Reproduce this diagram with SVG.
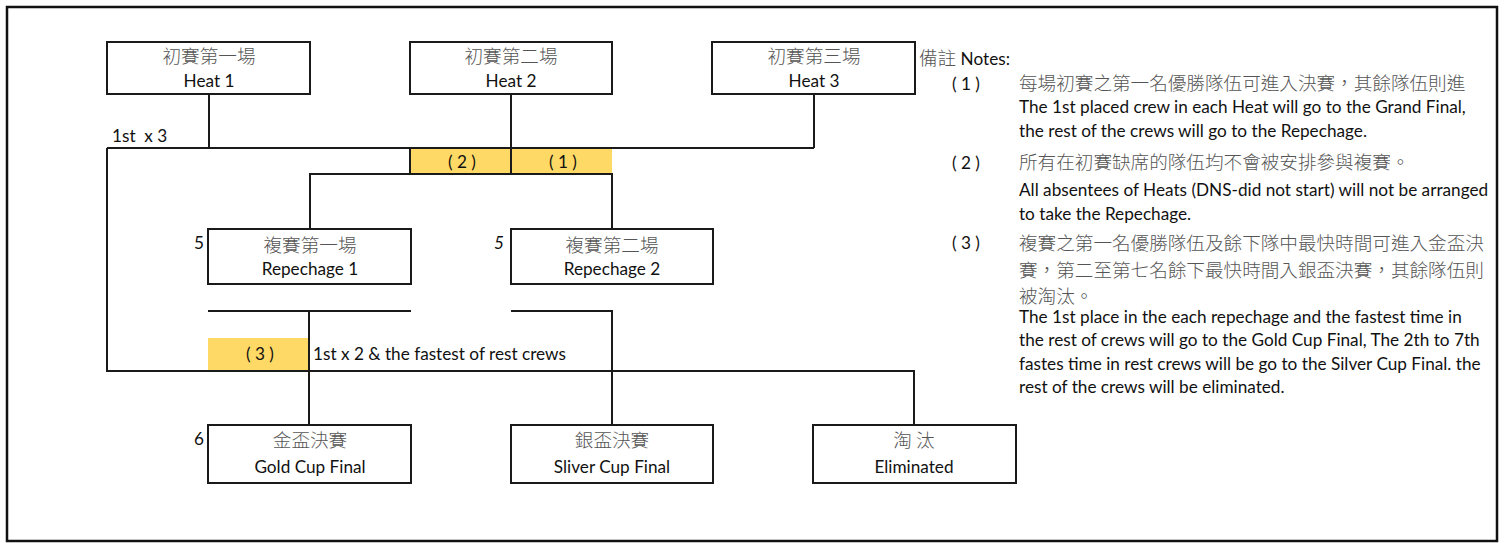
<svg xmlns="http://www.w3.org/2000/svg" width="1504" height="543" viewBox="0 0 1504 543">
<style>
.box{fill:#fff;stroke:#1a1a1a;stroke-width:2}
.ln{fill:none;stroke:#1a1a1a;stroke-width:2}
.hl{fill:#FFD966;stroke:none}
.en{font-family:"Lato","Liberation Sans",sans-serif;font-size:17.2px;fill:#111}
.cj{font-family:"Noto Sans CJK TC","Noto Sans CJK SC",sans-serif;font-size:18.6px;fill:#555;font-weight:300}
.c{text-anchor:middle}
.e{text-anchor:end}
.pre{white-space:pre}
</style>
<rect x="7" y="7" width="1490" height="534" fill="#fff" stroke="#111" stroke-width="2.5"/>

<g id="connectors">
<polyline class="ln" points="209,94 209,148"/>
<polyline class="ln" points="814,94 814,148"/>
<polyline class="ln" points="107,148 814,148"/>
<rect class="hl" x="411" y="149" width="100" height="24"/>
<rect class="hl" x="512" y="149" width="100" height="24"/>
<polyline class="ln" points="511,94 511,174"/>
<polyline class="ln" points="410,148 410,174"/>
<polyline class="ln" points="310,229 310,174 612,174 612,229"/>
<polyline class="ln" points="107,148 107,371 914,371 914,425"/>
<polyline class="ln" points="208,311 411,311"/>
<rect class="hl" x="208" y="338" width="101" height="32"/>
<polyline class="ln" points="309,311 309,425"/>
<polyline class="ln" points="511,311 612,311 612,425"/>
</g>

<g id="labels">
<text class="en pre" x="112" y="142">1st  x 3</text>
<text class="en c pre" x="462" y="168">( 2 )</text>
<text class="en c pre" x="563" y="168">( 1 )</text>
<text class="en c pre" x="260" y="360">( 3 )</text>
<text class="en" x="313" y="360">1st x 2 &amp; the fastest of rest crews</text>
<text class="en e" x="204" y="249">5</text>
<text class="en e" x="504" y="249" font-style="italic">5</text>
<text class="en e" x="204" y="445">6</text>
</g>

<g id="heat1">
<rect class="box" x="107" y="42" width="203" height="52"/>
<text class="cj c" x="209" y="63">初賽第一場</text>
<text class="en c" x="209" y="87">Heat 1</text>
</g>
<g id="heat2">
<rect class="box" x="410" y="42" width="202" height="52"/>
<text class="cj c" x="511" y="63">初賽第二場</text>
<text class="en c" x="511" y="87">Heat 2</text>
</g>
<g id="heat3">
<rect class="box" x="712" y="42" width="203" height="52"/>
<text class="cj c" x="814" y="63">初賽第三場</text>
<text class="en c" x="814" y="87">Heat 3</text>
</g>

<g id="repechage1">
<rect class="box" x="208" y="229" width="203" height="55"/>
<text class="cj c" x="310" y="252">複賽第一場</text>
<text class="en c" x="310" y="275">Repechage 1</text>
</g>
<g id="repechage2">
<rect class="box" x="511" y="229" width="202" height="55"/>
<text class="cj c" x="612" y="252">複賽第二場</text>
<text class="en c" x="612" y="275">Repechage 2</text>
</g>

<g id="gold">
<rect class="box" x="208" y="425" width="203" height="58"/>
<text class="cj c" x="310" y="447">金盃決賽</text>
<text class="en c" x="310" y="473">Gold Cup Final</text>
</g>
<g id="silver">
<rect class="box" x="511" y="425" width="202" height="58"/>
<text class="cj c" x="612" y="447">銀盃決賽</text>
<text class="en c" x="612" y="473">Sliver Cup Final</text>
</g>
<g id="eliminated">
<rect class="box" x="813" y="425" width="203" height="58"/>
<text class="cj c pre" x="914" y="447">淘 汰</text>
<text class="en c" x="914" y="473">Eliminated</text>
</g>

<g id="notes">
<text x="919" y="65"><tspan class="cj">備註</tspan><tspan class="en"> Notes:</tspan></text>
<text class="en pre" x="952" y="90">( 1 )</text>
<text class="cj" x="1019" y="90">每場初賽之第一名優勝隊伍可進入決賽，其餘隊伍則進</text>
<text class="en" x="1019" y="113">The 1st placed crew in each Heat will go to the Grand Final,</text>
<text class="en" x="1019" y="137">the rest of the crews will go to the Repechage.</text>
<text class="en pre" x="952" y="169">( 2 )</text>
<text class="cj" x="1019" y="169">所有在初賽缺席的隊伍均不會被安排參與複賽。</text>
<text class="en" x="1019" y="196">All absentees of Heats (DNS-did not start) will not be arranged</text>
<text class="en" x="1019" y="220">to take the Repechage.</text>
<text class="en pre" x="952" y="249">( 3 )</text>
<text class="cj" x="1019" y="250">複賽之第一名優勝隊伍及餘下隊中最快時間可進入金盃決</text>
<text class="cj" x="1019" y="277">賽，第二至第七名餘下最快時間入銀盃決賽，其餘隊伍則</text>
<text class="cj" x="1019" y="303">被淘汰。</text>
<text class="en" x="1019" y="323">The 1st place in the each repechage and the fastest time in</text>
<text class="en" x="1019" y="346">the rest of crews will go to the Gold Cup Final, The 2th to 7th</text>
<text class="en" x="1019" y="370">fastes time in rest crews will be go to the Silver Cup Final. the</text>
<text class="en" x="1019" y="393">rest of the crews will be eliminated.</text>
</g>
</svg>
